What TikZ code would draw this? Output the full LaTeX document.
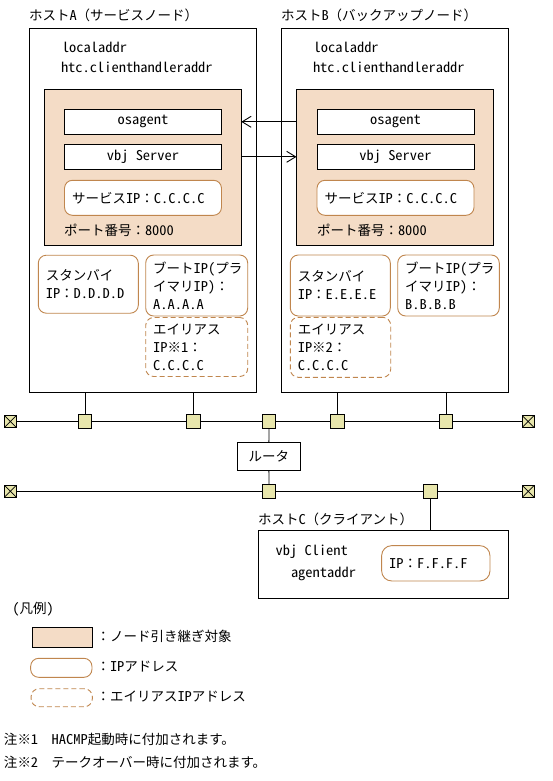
\documentclass[tikz,border=0pt]{standalone}
\usepackage{fontspec}
\setmainfont{Noto Sans CJK JP}
\newfontfamily\hw{Noto Sans CJK JP}[RawFeature={+hwid},FakeStretch=1.07]
\usetikzlibrary{arrows.meta}
\definecolor{salmonfill}{RGB}{244,220,198}
\definecolor{ipbrown}{RGB}{192,134,78}
\definecolor{tapfill}{RGB}{232,230,172}
\begin{document}
\begin{tikzpicture}[x=1pt,y=-1pt,
  font=\fontsize{13.5}{18}\selectfont,
  every node/.style={inner sep=0pt, outer sep=0pt},
  link/.style={line width=0.9pt, draw=black},
  hostbox/.style={draw=black, line width=0.9pt, fill=white},
  takeover/.style={draw=black, line width=0.9pt, fill=salmonfill},
  procbox/.style={draw=black, line width=0.9pt, fill=white},
  ipbox/.style={draw=ipbrown, line width=0.9pt, rounded corners=8pt, fill=white, align=left, inner xsep=7.5pt},
  aliasbox/.style={ipbox, dash pattern=on 5pt off 3pt},
  tap/.style={draw=black, line width=0.9pt, fill=tapfill, minimum size=13.4pt},
  term/.style={draw=black, line width=0.9pt, fill=tapfill, minimum size=12.3pt,
    path picture={\draw[line width=0.7pt] (path picture bounding box.north west)--(path picture bounding box.south east)
      (path picture bounding box.south west)--(path picture bounding box.north east);}},
  lbl/.style={anchor=west},
  barb/.style={-{Straight Barb[length=9pt,width=11pt]}}
]
\useasboundingbox (0,0) rectangle (552,781);

% ---------- Host A ----------
\node[lbl] (labA) at (29,15) {ホスト{\hw A}（サービスノード）};
\node[hostbox, minimum width=227pt, minimum height=364pt] (hostA) at (143,210.5) {};
\node[lbl] (laA) at (62,47) {\hw localaddr};
\node[lbl] (htcA) at (61,67) {\hw htc.clienthandleraddr};
\node[takeover, minimum width=197pt, minimum height=156pt] (innerA) at (142.8,167.3) {};
\node[procbox, minimum width=157pt, minimum height=25pt] (osaA) at (143,121.8) {\hw osagent};
\node[procbox, minimum width=157pt, minimum height=25pt] (vbjA) at (143,156.8) {\hw vbj Server};
\node[ipbox, minimum width=157pt, minimum height=35pt, text width=142pt] (sipA) at (143,197.8) {サービス{\hw IP}：{\hw C.C.C.C}};
\node[lbl] (portA) at (64,230) {ポート番号：{\hw 8000}};
\node[ipbox, minimum width=100pt, minimum height=58pt, text width=85pt] (sbA) at (88.3,284.2) {スタンバイ\\{\hw IP}：{\hw D.D.D.D}};
\node[ipbox, minimum width=102pt, minimum height=61pt, text width=87pt] (btA) at (196.7,285.5) {ブート{\hw IP(}プラ\\イマリ{\hw IP)}：\\{\hw A.A.A.A}};
\node[aliasbox, minimum width=102pt, minimum height=59pt, text width=87pt] (alA) at (196.7,347) {エイリアス\\{\hw IP}※{\hw 1}：\\{\hw C.C.C.C}};

% ---------- Host B ----------
\node[lbl] (labB) at (281,15) {ホスト{\hw B}（バックアップノード）};
\node[hostbox, minimum width=227pt, minimum height=364pt] (hostB) at (394.8,210.5) {};
\node[lbl] (laB) at (313.7,47) {\hw localaddr};
\node[lbl] (htcB) at (313,67) {\hw htc.clienthandleraddr};
\node[takeover, minimum width=197pt, minimum height=156pt] (innerB) at (395,167.3) {};
\node[procbox, minimum width=157pt, minimum height=25pt] (osaB) at (395.5,121.8) {\hw osagent};
\node[procbox, minimum width=157pt, minimum height=25pt] (vbjB) at (395.5,156.8) {\hw vbj Server};
\node[ipbox, minimum width=157pt, minimum height=35pt, text width=142pt] (sipB) at (395.5,197.8) {サービス{\hw IP}：{\hw C.C.C.C}};
\node[lbl] (portB) at (317,230) {ポート番号：{\hw 8000}};
\node[ipbox, minimum width=100pt, minimum height=61pt, text width=85pt] (sbB) at (340.3,285.5) {スタンバイ\\{\hw IP}：{\hw E.E.E.E}};
\node[ipbox, minimum width=101.6pt, minimum height=61pt, text width=86.6pt] (btB) at (448.5,285.5) {ブート{\hw IP(}プラ\\イマリ{\hw IP)}：\\{\hw B.B.B.B}};
\node[aliasbox, minimum width=100.4pt, minimum height=60pt, text width=85.4pt] (alB) at (340.5,347.3) {エイリアス\\{\hw IP}※{\hw 2}：\\{\hw C.C.C.C}};

% ---------- arrows between hosts ----------
\draw[link, barb] (innerB.west |- osaA) -- (innerA.east |- osaA);
\draw[link, barb] (innerA.east |- vbjA) -- (innerB.west |- vbjA);

% ---------- network 1 ----------
\node[term] (tl1) at (10.4,421.5) {};
\node[term] (tr1) at (528.2,421.5) {};
\node[tap] (t1) at (85.2,421.5) {};
\node[tap] (t2) at (193.3,421.5) {};
\node[tap] (t3) at (269,421.5) {};
\node[tap] (t4) at (337.3,421.5) {};
\node[tap] (t5) at (446.1,421.5) {};
\draw[link] (tl1) -- (t1) -- (t2) -- (t3) -- (t4) -- (t5) -- (tr1);
\draw[link] (t1) -- (t1 |- hostA.south);
\draw[link] (t2) -- (t2 |- hostA.south);
\draw[link] (t4) -- (t4 |- hostB.south);
\draw[link] (t5) -- (t5 |- hostB.south);

% ---------- router ----------
\node[procbox, minimum width=63pt, minimum height=27.4pt] (router) at (268.9,456.4) {ルータ};

% ---------- network 2 ----------
\node[term] (tl2) at (10.4,491.3) {};
\node[term] (tr2) at (528.2,491.3) {};
\node[tap] (u1) at (269,491.3) {};
\node[tap] (u2) at (430.6,491.3) {};
\draw[link] (tl2) -- (u1) -- (u2) -- (tr2);
\draw[link] (t3) -- (router) -- (u1);

% ---------- Host C ----------
\node[lbl] (labC) at (258,519) {ホスト{\hw C}（クライアント）};
\node[hostbox, minimum width=250pt, minimum height=67.7pt] (hostC) at (383.3,564.5) {};
\draw[link] (u2) -- (u2 |- hostC.north);
\node[lbl] (vbjC) at (275.7,552) {\hw vbj Client};
\node[lbl] (agC) at (291,574) {\hw agentaddr};
\node[ipbox, rounded corners=10pt, minimum width=108.3pt, minimum height=35.3pt, text width=93.3pt] (ipC) at (435.8,563.3) {{\hw IP}：{\hw F.F.F.F}};

% ---------- legend ----------
\node[lbl] (legtitle) at (12.3,609) {{\hw(}凡例{\hw)}};
\node[takeover, minimum width=60pt, minimum height=19.7pt] (lg1) at (62.3,637.5) {};
\node[lbl] (lg1t) at (96.5,636) {：ノード引き継ぎ対象};
\node[ipbox, minimum width=61.3pt, minimum height=19pt] (lg2) at (61.3,667.8) {};
\node[lbl] (lg2t) at (96.5,666.5) {：{\hw IP}アドレス};
\node[aliasbox, minimum width=61.3pt, minimum height=18pt] (lg3) at (61.7,697.7) {};
\node[lbl] (lg3t) at (96.5,696.5) {：エイリアス{\hw IP}アドレス};

% ---------- notes ----------
\node[lbl] (note1) at (4,739.5) {注※{\hw 1}　{\hw HACMP}起動時に付加されます。};
\node[lbl] (note2) at (4,762.5) {注※{\hw 2}　テークオーバー時に付加されます。};
\end{tikzpicture}
\end{document}
